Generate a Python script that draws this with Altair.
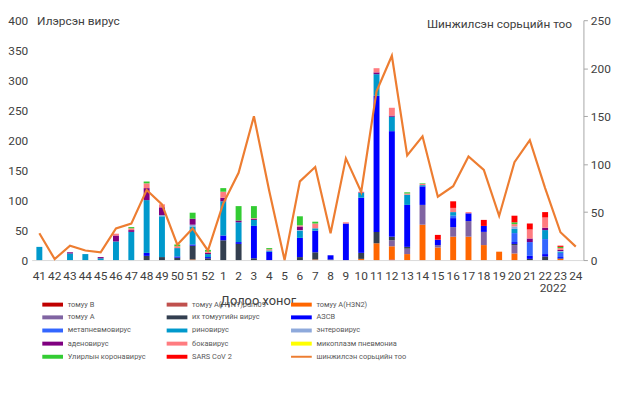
import altair as alt
import pandas as pd

weeks = ["41","42","43","44","45","46","47","48","49","50","51","52",
         "1","2","3","4","5","6","7","8","9","10","11","12",
         "13","14","15","16","17","18","19","20","21","22","23","24"]

names = ["томуу B", "томуу A(H1N1)pdm09", "томуу A(H3N2)", "томуу A",
         "их томуугийн  вирус", "АЗСВ", "метапневмовирус", "риновирус",
         "энтеровирус", "аденовирус", "бокавирус", "микоплазм  пневмониа",
         "Улирлын  коронавирус", "SARS CoV 2"]
colors = ["#C00000", "#C0504D", "#FF6600", "#8064A2", "#333F50", "#0000FF",
          "#3366FF", "#0099CC", "#8EA9DB", "#800080", "#FF7C80", "#FFFF00",
          "#33CC33", "#FF0000"]

#            41 42 43 44 45 46 47  48 49 50 51 52  1  2  3  4 5  6  7 8  9  10  11  12  13 14 15 16 17 18 19 20 21 22 23 24
flu_b     = [0, 0, 0, 0, 0, 0, 0,  0, 0, 0, 0, 0, 0, 0, 0, 0,0, 0, 0,0, 0,  0,  0,  1,  0, 0, 0, 0, 0, 0, 0, 0, 0, 0, 0, 0]
flu_h1n1  = [0, 0, 0, 0, 0, 0, 0,  0, 0, 0, 0, 0, 0, 0, 0, 0,0, 0, 0,0, 0,  0,  0,  0,  0, 0, 0, 0, 0, 0, 0, 0, 0, 0, 0, 0]
flu_h3n2  = [0, 0, 0, 0, 0, 0, 0,  0, 0, 0, 1, 0, 0, 0, 0, 0,0, 0, 1,0, 0,  2, 28, 22, 10,59,21,39,39,25,14,11, 0, 0, 2, 0]
flu_a     = [0, 0, 0, 0, 0, 0, 0,  0, 0, 0, 0, 0, 0, 0, 0, 0,0, 0, 0,0, 0,  0,  0, 10,  9,33, 4,16,26,22, 0,14, 0, 0, 0, 0]
para      = [0, 0, 0, 0, 0, 0, 0,  7, 5, 4,23, 3,33,27, 3, 0,0, 5,12,1, 0, 10, 19,  6,  3, 0, 0, 0, 0, 0, 0, 2, 2, 6, 1, 0]
rsv       = [0, 0, 0, 0, 0, 0, 0,  5, 0, 2, 2, 2, 8, 3,54,14,0,32,36,7,61, 92,227,176, 70,31, 9,15,13,10, 0, 3, 5, 4, 2, 0]
metapneumo= [0, 0, 0, 0, 0, 0, 0,  0, 0, 0, 0, 0, 0, 0, 0, 0,0, 0, 0,0, 0,  0,  0,  0,  0, 0, 0, 4, 0, 0, 0,15,23,25, 7, 0]
rhino     = [22,0,11,10, 3,31,47, 88,68,14,30, 5,57,33,10, 2,0,12, 4,0, 0,  8, 36, 24, 17, 2, 0, 6, 0, 0, 0, 7, 0,15, 2, 0]
entero    = [0, 0, 0, 0, 0, 0, 0,  0, 2, 0, 3, 0, 0, 0, 0, 0,0, 1, 0,0, 0,  0,  0,  0,  0, 0, 0, 0, 0, 0, 0, 4, 0, 0, 1, 0]
adeno     = [0, 0, 2, 0, 2,10, 3, 20,13, 0,10, 2, 6, 3, 2, 0,0, 6, 0,0, 0,  1,  3,  2,  0, 0, 0, 0, 0, 0, 0, 0, 6, 4, 2, 0]
boca      = [0, 0, 0, 0, 0, 3, 3,  8, 5, 3, 0, 2,10, 0, 1, 2,0, 2, 8,0, 2,  1,  7, 13,  2, 2, 0, 7, 2, 0, 0, 4,15,17, 3, 0]
myco      = [0, 0, 0, 0, 0, 0, 0,  0, 0, 0, 0, 0, 0, 0, 0, 0,0, 0, 0,0, 0,  0,  0,  0,  0, 0, 0, 0, 0, 0, 0, 0, 0, 0, 0, 0]
corona    = [0, 0, 0, 0, 0, 0, 2,  3, 0, 3,10, 3, 6,24,20, 2,0,15, 3,0, 0,  0,  0,  0,  2, 1, 0, 0, 0, 0, 0, 3, 0, 0, 2, 0]
sars      = [0, 0, 0, 0, 0, 0, 0,  0, 0, 0, 0, 0, 0, 0, 0, 0,0, 0, 0,0, 0,  0,  0,  0,  0, 0, 8,11, 0,10, 0,11,10, 9, 2, 0]

tested    = [28, 1,15,10, 8,33,38, 73,58,16,33,10,59,91,150,72,0,82,97,28,106,71,176,213,109,129,66,77,108,94,46,102,125,75,29,14]

series = [flu_b, flu_h1n1, flu_h3n2, flu_a, para, rsv, metapneumo, rhino,
          entero, adeno, boca, myco, corona, sars]

line_name = "шинжилсэн  сорьцийн  тоо"

rows = []
for idx, (nm, vals) in enumerate(zip(names, series)):
    for w, v in zip(weeks, vals):
        if v > 0:
            rows.append({"week": w, "virus": nm, "count": v, "idx": idx})
bars_df = pd.DataFrame(rows)
line_df = pd.DataFrame({"week": weeks, "tested": tested, "series": line_name})
year_df = pd.DataFrame({"week": ["22"], "label": ["2022"]})

FONT = "Roboto"
TXT = "#404040"
LEG_Y = 284
ROW_H = 13.3

xscale = alt.Scale(paddingInner=0, paddingOuter=0)
xenc = alt.X("week:N", sort=weeks, scale=xscale,
             axis=alt.Axis(title="Долоо хоног", labelAngle=0, ticks=False,
                           labelPadding=11, labelFontSize=12, labelColor=TXT,
                           labelOverlap=False, domainColor="#D9D9D9",
                           titleX=229, titleY=35, titleAlign="center",
                           titleFontSize=13, titleFontWeight="normal",
                           titleColor=TXT))

bar_symbol = "M-1,-1L9.5,-1L9.5,1L-1,1Z"

bars = alt.Chart(bars_df).mark_bar(size=6).encode(
    x=xenc,
    y=alt.Y("count:Q", stack="zero",
            scale=alt.Scale(domain=[0, 400], nice=False),
            axis=alt.Axis(title="Илэрсэн вирус", values=list(range(0, 401, 50)),
                          grid=False, domain=False, ticks=False, labelPadding=4,
                          labelFontSize=12, labelColor=TXT,
                          titleAngle=0, titleX=5, titleY=0, titleAlign="left",
                          titleBaseline="middle", titleFontSize=12,
                          titleFontWeight="normal", titleColor=TXT)),
    fill=alt.Fill("virus:N", scale=alt.Scale(domain=names, range=colors),
                  legend=alt.Legend(title=None, orient="none", legendX=9, legendY=LEG_Y,
                                    direction="horizontal",
                                    columns=3, gridAlign="all", columnPadding=15,
                                    rowPadding=4.3, symbolType=bar_symbol,
                                    symbolSize=16, symbolStrokeWidth=0,
                                    labelOffset=20, labelFontSize=7.5,
                                    labelColor="#595959", padding=0)),
    order=alt.Order("idx:Q", sort="ascending"),
)

line = alt.Chart(line_df).mark_line(strokeWidth=2.2).encode(
    x=alt.X("week:N", sort=weeks),
    y=alt.Y("tested:Q", scale=alt.Scale(domain=[0, 250], nice=False),
            axis=alt.Axis(orient="right", title="Шинжилсэн сорьцийн тоо",
                          values=list(range(0, 251, 50)), grid=False,
                          domainColor="#A6A6A6", tickColor="#A6A6A6", tickSize=4,
                          labelPadding=3, labelFontSize=12, labelColor=TXT,
                          titleAngle=0, titleX=-12, titleY=3, titleAlign="right",
                          titleBaseline="middle", titleFontSize=12,
                          titleFontWeight="normal", titleColor=TXT)),
    stroke=alt.Stroke("series:N", scale=alt.Scale(domain=[line_name], range=["#ED7D31"]),
                      legend=alt.Legend(title=None, orient="none", legendX=261,
                                        legendY=LEG_Y + 4 * ROW_H,
                                        symbolType="M-1,0L9.5,0", symbolSize=16,
                                        symbolStrokeWidth=2, labelOffset=20,
                                        labelFontSize=7.5, labelColor="#595959",
                                        padding=0)),
)

year = alt.Chart(year_df).mark_text(dx=8, fontSize=12, color=TXT, font=FONT).encode(
    x=alt.X("week:N", sort=weeks),
    y=alt.value(271),
    text="label:N",
)

chart = alt.layer(bars, line, year).resolve_scale(
    y="independent", fill="independent", stroke="independent"
).properties(
    width=559, height=243,
    padding={"left": 24, "top": 10, "right": 34, "bottom": 110},
    autosize=alt.AutoSizeParams(type="none"),
).configure(font=FONT).configure_view(stroke=None)

chart.save("out.html", embed_options={"renderer": "svg", "actions": False})
